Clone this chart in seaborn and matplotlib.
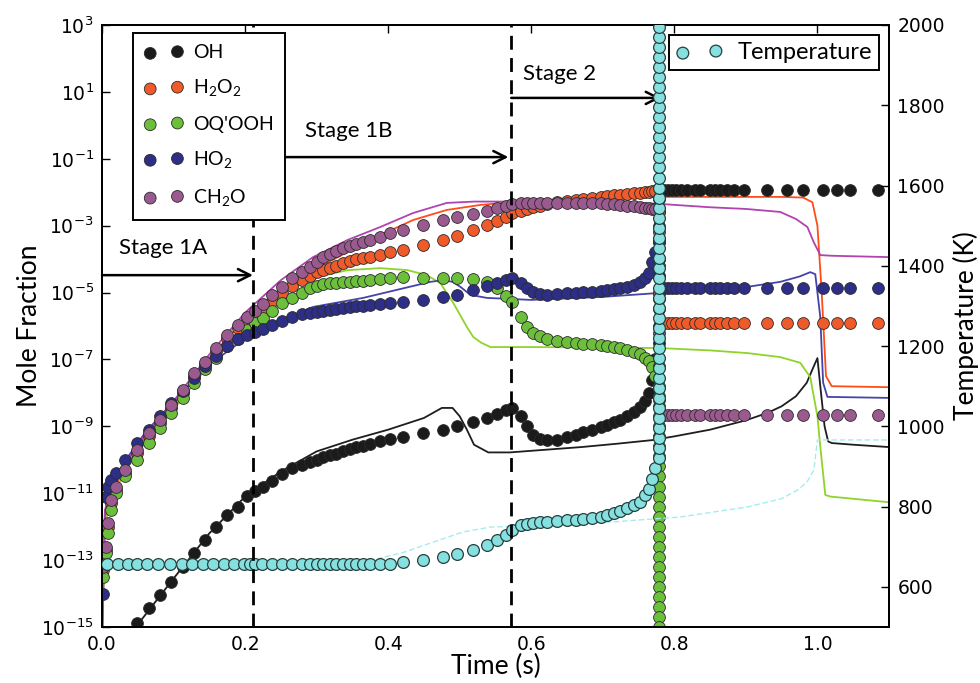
import numpy as np
import pandas as pd
import matplotlib
matplotlib.use("Agg")
import matplotlib.pyplot as plt
from matplotlib.ticker import FixedLocator, FuncFormatter, NullLocator
import seaborn as sns

nan = np.nan

# ---------------- experimental (dots), values are log10(mole fraction) ----------------
t_exp = [0.002, 0.005, 0.008, 0.012, 0.020, 0.032, 0.049, 0.065, 0.081, 0.097,
         0.113, 0.129, 0.144, 0.159, 0.175, 0.190, 0.203, 0.214, 0.225, 0.238,
         0.252, 0.266, 0.279, 0.291, 0.300, 0.309, 0.318, 0.327, 0.337, 0.346,
         0.355, 0.365, 0.375, 0.389, 0.403, 0.421, 0.449, 0.477, 0.496, 0.519,
         0.538, 0.552, 0.564, 0.573, 0.585, 0.594, 0.603, 0.612, 0.622, 0.636,
         0.650, 0.662, 0.673, 0.685, 0.697, 0.706, 0.715, 0.724, 0.734, 0.743,
         0.752, 0.759, 0.764, 0.769, 0.773]

oh_exp = [nan, nan, nan, nan, nan, nan, -14.88, -14.43, -14.05, -13.65,
          -13.2, -12.8, -12.4, -12.0, -11.65, -11.4, -11.08, -10.92, -10.8, -10.62,
          -10.42, -10.25, -10.15, -10.07, -10.0, -9.93, -9.87, -9.82, -9.75, -9.68,
          -9.63, -9.58, -9.52, -9.44, -9.38, -9.33, -9.2, -9.1, -9.0, -8.86,
          -8.74, -8.62, -8.52, -8.45, -8.7, -9.0, -9.25, -9.38, -9.42, -9.4,
          -9.32, -9.25, -9.17, -9.1, -9.02, -8.96, -8.88, -8.8, -8.7, -8.58,
          -8.42, -8.25, -8.0, -7.6, -7.0]

h2o2_exp = [-13.3, -12.7, -12.0, -11.3, -10.9, -10.4, -9.8, -9.3, -8.9, -8.45,
            -8.0, -7.5, -7.15, -6.75, -6.37, -6.05, -5.82, -5.65, -5.45, -5.25,
            -5.02, -4.80, -4.63, -4.50, -4.40, -4.33, -4.27, -4.20, -4.12, -4.06,
            -4.01, -3.97, -3.93, -3.88, -3.80, -3.72, -3.58, -3.43, -3.30, -3.14,
            -2.98, -2.85, -2.74, -2.62, -2.55, -2.50, -2.45, -2.40, -2.36, -2.30,
            -2.26, -2.22, -2.19, -2.16, -2.13, -2.11, -2.09, -2.07, -2.05, -2.03,
            -2.01, -2.00, -1.98, -1.97, -1.96]

oqooh_exp = [-13.5, -12.8, -12.2, -11.5, -11.0, -10.5, -10.0, -9.5, -9.05, -8.6,
             -8.15, -7.7, -7.3, -6.95, -6.6, -6.38, -6.12, -5.91, -5.75, -5.55,
             -5.31, -5.16, -5.0, -4.87, -4.80, -4.74, -4.72, -4.70, -4.69, -4.68,
             -4.66, -4.64, -4.63, -4.60, -4.57, -4.54, -4.56, -4.57, -4.57, -4.60,
             -4.68, -4.85, -5.10, -5.28, -5.73, -6.03, -6.21, -6.31, -6.40, -6.46,
             -6.49, -6.51, -6.53, -6.55, -6.57, -6.60, -6.63, -6.66, -6.72, -6.78,
             -6.85, -6.95, -7.05, -7.23, -7.50]

ho2_exp = [-14.0, -11.1, -10.8, -10.6, -10.4, -10.0, -9.5, -9.1, -8.7, -8.3,
           -7.95, -7.55, -7.2, -6.9, -6.6, -6.4, -6.27, -6.18, -6.10, -5.98,
           -5.85, -5.73, -5.65, -5.61, -5.58, -5.56, -5.52, -5.50, -5.47, -5.43,
           -5.41, -5.39, -5.37, -5.34, -5.31, -5.28, -5.22, -5.13, -5.07, -4.92,
           -4.80, -4.70, -4.63, -4.57, -4.72, -4.85, -4.98, -5.04, -5.07, -5.05,
           -5.02, -5.00, -4.99, -4.97, -4.95, -4.92, -4.90, -4.87, -4.83, -4.77,
           -4.68, -4.55, -4.42, -4.10, -3.80]

ch2o_exp = [-13.2, -12.6, -11.9, -11.2, -10.8, -10.3, -9.7, -9.2, -8.8, -8.35,
            -7.9, -7.42, -7.08, -6.66, -6.27, -5.97, -5.72, -5.55, -5.35, -5.07,
            -4.83, -4.57, -4.40, -4.24, -4.08, -3.94, -3.85, -3.76, -3.67, -3.60,
            -3.54, -3.49, -3.42, -3.34, -3.23, -3.12, -2.98, -2.83, -2.75, -2.64,
            -2.56, -2.48, -2.40, -2.34, -2.32, -2.31, -2.31, -2.31, -2.31, -2.31,
            -2.31, -2.31, -2.32, -2.32, -2.33, -2.35, -2.36, -2.38, -2.40, -2.42,
            -2.44, -2.46, -2.47, -2.49, -2.50]

# ignition column (all at one time)
t_ign = 0.778
oh_ign = [-6.5, -6.0, -5.5, -5.0, -4.5, -4.0, -3.5, -3.0, -2.6, -2.2]
h2o2_ign = [-2.6, -3.4, -4.2, -5.0]
oqooh_ign = [-7.8, -8.1, -8.4, -8.7, -9.0, -9.3, -9.6, -9.9, -10.2, -10.5, -10.8,
             -11.1, -11.4, -11.7, -12.0, -12.3, -12.6, -12.9, -13.2, -13.5, -13.8,
             -14.1, -14.4, -14.7, -15.0]
ho2_ign = [-3.5, -4.0, -4.5]
ch2o_ign = [-3.2, -4.2, -5.2, -6.2, -7.2, -8.2]

# after ignition
t_post = [0.786, 0.791, 0.797, 0.803, 0.809, 0.818, 0.829, 0.836, 0.850, 0.857,
          0.864, 0.874, 0.883, 0.897, 0.930, 0.958, 0.980, 1.008, 1.028, 1.046, 1.085]
oh_post = [-1.93, -1.93, -1.94, -1.93, -1.93, -1.93, -1.94, -1.93, -1.93, -1.93,
           -1.93, -1.93, -1.94, -1.93, -1.93, -1.93, -1.93, -1.93, -1.94, -1.93, -1.93]
h2o2_post = [-5.91, -5.91, -5.91, -5.92, -5.91, -5.91, -5.91, -5.91, -5.92, -5.91,
             -5.91, -5.91, -5.91, -5.91, -5.91, -5.91, -5.91, -5.91, -5.91, -5.91, -5.91]
ho2_post = [-4.87, -4.87, -4.87, -4.86, -4.87, -4.87, -4.87, -4.87, -4.87, -4.86,
            -4.87, -4.87, -4.87, -4.87, -4.87, -4.87, -4.87, -4.87, -4.87, -4.87, -4.87]
ch2o_post = [-8.66, -8.66, -8.66, -8.65, -8.66, -8.66, -8.66, -8.66, -8.66, -8.66,
             -8.66, -8.66, -8.66, -8.66, -8.66, -8.66, -8.66, -8.66, -8.66, -8.66, -8.66]

# temperature (K), experimental
t_T = [0.007, 0.022, 0.036, 0.049, 0.063, 0.078, 0.095, 0.112, 0.126, 0.141,
       0.155, 0.170, 0.185, 0.199, 0.207, 0.214, 0.224, 0.238, 0.252, 0.266,
       0.280, 0.291, 0.300, 0.309, 0.318, 0.327, 0.337, 0.346, 0.355, 0.365,
       0.375, 0.389, 0.403, 0.421, 0.449, 0.477, 0.496, 0.519, 0.538, 0.552,
       0.564, 0.573, 0.585, 0.594, 0.603, 0.612, 0.622, 0.636, 0.650, 0.662,
       0.673, 0.685, 0.697, 0.706, 0.715, 0.724, 0.734, 0.743, 0.752, 0.759,
       0.764, 0.769, 0.773]
T_exp = [658, 658, 658, 658, 658, 658, 658, 658, 658, 658,
         658, 658, 658, 658, 658, 658, 658, 658, 658, 658,
         658, 658, 658, 658, 658, 658, 658, 658, 658, 658,
         658, 658, 658, 662, 668, 674, 681, 692, 704, 717,
         729, 742, 754, 757, 759, 761, 762, 764, 767, 767,
         768, 771, 774, 779, 784, 790, 796, 803, 812, 829,
         845, 870, 895]
T_ign = [920, 945, 970, 995, 1020, 1045, 1070, 1095, 1120, 1145, 1170, 1195,
         1220, 1245, 1270, 1295, 1320, 1345, 1370, 1395, 1420, 1445, 1470, 1495,
         1520, 1545, 1570, 1595, 1620, 1645, 1670, 1695, 1720, 1745, 1770, 1795,
         1820, 1845, 1870, 1895, 1920, 1945, 1970, 1995]

# ---------------- model (lines) ----------------
oh_mod_t = [0.040, 0.10, 0.15, 0.20, 0.25, 0.30, 0.35, 0.40, 0.45, 0.475, 0.49, 0.50,
            0.51, 0.52, 0.54, 0.57, 0.62, 0.67, 0.72, 0.77, 0.80, 0.85, 0.90, 0.93,
            0.95, 0.97, 0.985, 0.995, 1.0, 1.005, 1.01, 1.015, 1.02, 1.05, 1.10]
oh_mod = [-15.2, -13.55, -12.2, -11.1, -10.35, -9.75, -9.4, -9.1, -8.75, -8.45, -8.45, -8.7,
          -9.1, -9.55, -9.78, -9.78, -9.7, -9.62, -9.52, -9.41, -9.3, -9.1, -8.82, -8.6,
          -8.4, -8.1, -7.7, -7.2, -6.96, -8.0, -9.0, -9.45, -9.5, -9.55, -9.62]

h2o2_mod_t = [0.0, 0.004, 0.012, 0.03, 0.06, 0.10, 0.15, 0.20, 0.25, 0.295, 0.343, 0.389,
              0.435, 0.482, 0.529, 0.60, 0.70, 0.78, 0.85, 0.95, 0.98, 0.993, 1.0, 1.006,
              1.012, 1.02, 1.10]
h2o2_mod = [-15.5, -11.8, -11.1, -10.3, -9.35, -8.35, -6.95, -5.8, -4.9, -4.33, -3.79, -3.28,
            -2.83, -2.53, -2.38, -2.25, -2.18, -2.14, -2.14, -2.14, -2.16, -2.3, -3.0, -5.0,
            -7.5, -7.8, -7.83]

oqooh_mod_t = [0.0, 0.004, 0.012, 0.03, 0.06, 0.10, 0.15, 0.20, 0.249, 0.295, 0.343, 0.389,
               0.427, 0.454, 0.473, 0.491, 0.51, 0.519, 0.53, 0.543, 0.60, 0.70, 0.78, 0.85,
               0.902, 0.948, 0.976, 0.99, 1.0, 1.004, 1.011, 1.018, 1.10]
oqooh_mod = [-15.5, -11.9, -11.3, -10.4, -9.5, -8.5, -7.15, -5.95, -5.07, -4.57, -4.33, -4.27,
             -4.33, -4.48, -4.72, -5.31, -6.03, -6.33, -6.5, -6.63, -6.63, -6.64, -6.66, -6.73,
             -6.81, -6.93, -7.1, -7.53, -8.7, -9.6, -11.05, -11.1, -11.27]

ho2_mod_t = [0.0, 0.004, 0.012, 0.03, 0.06, 0.10, 0.15, 0.20, 0.25, 0.295, 0.365, 0.412,
             0.459, 0.477, 0.49, 0.501, 0.515, 0.538, 0.60, 0.70, 0.78, 0.85, 0.902, 0.948,
             0.975, 0.99, 0.997, 1.004, 1.008, 1.014, 1.10]
ho2_mod = [-15.5, -11.6, -11.0, -10.1, -9.2, -8.25, -7.15, -6.38, -5.85, -5.43, -5.16, -4.92,
           -4.68, -4.63, -4.68, -4.83, -5.07, -5.16, -5.22, -5.13, -5.01, -4.93, -4.83, -4.68,
           -4.52, -4.39, -4.45, -5.73, -7.7, -8.12, -8.15]

ch2o_mod_t = [0.0, 0.004, 0.012, 0.03, 0.06, 0.10, 0.15, 0.20, 0.25, 0.295, 0.343, 0.389,
              0.435, 0.482, 0.52, 0.60, 0.70, 0.78, 0.85, 0.90, 0.948, 0.97, 0.986, 0.995,
              1.004, 1.02, 1.10]
ch2o_mod = [-15.5, -11.5, -11.0, -10.2, -9.25, -8.25, -6.85, -5.6, -4.63, -3.94, -3.43, -3.04,
            -2.62, -2.32, -2.28, -2.28, -2.29, -2.35, -2.45, -2.5, -2.59, -2.8, -3.04, -3.5,
            -3.88, -3.9, -3.94]

T_mod_t = [0.0, 0.10, 0.20, 0.30, 0.38, 0.42, 0.459, 0.505, 0.543, 0.60, 0.715, 0.808,
           0.902, 0.95, 0.972, 0.985, 0.995, 1.0, 1.01, 1.10]
T_mod = [658, 658, 658, 660, 668, 685, 709, 737, 749, 752, 762, 774,
         799, 820, 841, 860, 891, 966, 966, 966]

# annotations
stage_split = [0.211, 0.572]
y_ticks_exp = [3, 1, -1, -3, -5, -7, -9, -11, -13, -15]
x_ticks = [0.0, 0.2, 0.4, 0.6, 0.8, 1.0]
T_ticks = [600, 800, 1000, 1200, 1400, 1600, 1800, 2000]

# ---------------- style ----------------
sns.set_theme(style="white")
plt.rcParams.update({
    "font.family": ["DejaVu Sans"],
    "axes.edgecolor": "black",
    "axes.linewidth": 1.4,
    "xtick.color": "black",
    "ytick.color": "black",
    "axes.labelcolor": "black",
    "text.color": "black",
})
LBL = "Lato"

fig = plt.figure(figsize=(9.8, 6.83), dpi=100)
ax = fig.add_axes([0.1041, 0.0820, 0.8030, 0.8814])
ax.set_yscale("log")
ax2 = ax.twinx()

EDGE = "#2b2b2b"
col = {"OH": "#1b1b1b", "H2O2": "#ef5a2b", "OQ": "#6cbf3b", "HO2": "#2d2e85",
       "CH2O": "#9b5a8f", "T": "#86e0e0"}
lcol = {"OH": "#1e1e1e", "H2O2": "#ff4d1a", "OQ": "#8fd32b", "HO2": "#4444aa",
        "CH2O": "#b143b0", "T": "#a5eded"}

# model lines
for key, tt, vv in [("OH", oh_mod_t, oh_mod), ("H2O2", h2o2_mod_t, h2o2_mod),
                    ("OQ", oqooh_mod_t, oqooh_mod), ("HO2", ho2_mod_t, ho2_mod),
                    ("CH2O", ch2o_mod_t, ch2o_mod)]:
    sns.lineplot(x=tt, y=10.0 ** np.array(vv), ax=ax, color=lcol[key], lw=1.3,
                 sort=False, estimator=None, zorder=2)

# experimental dots
handles = []
groups = [("OH", "OH", oh_exp, oh_ign, oh_post),
          ("H2O2", "H$_\\mathdefault{2}$O$_\\mathdefault{2}$", h2o2_exp, h2o2_ign, h2o2_post),
          ("OQ", "OQ'OOH", oqooh_exp, oqooh_ign, None),
          ("HO2", "HO$_\\mathdefault{2}$", ho2_exp, ho2_ign, ho2_post),
          ("CH2O", "CH$_\\mathdefault{2}$O", ch2o_exp, ch2o_ign, ch2o_post)]
labels = []
for key, lab, ve, vi, vp in groups:
    tt = list(t_exp) + [t_ign] * len(vi)
    vv = list(ve) + list(vi)
    if vp is not None:
        tt += list(t_post)
        vv += list(vp)
    df = pd.DataFrame({"t": tt, "v": 10.0 ** np.array(vv, dtype=float)}).dropna()
    sns.scatterplot(data=df, x="t", y="v", ax=ax, color=col[key], s=72,
                    edgecolor=EDGE, linewidth=0.6, zorder=3, legend=False)
    handles.append(ax.collections[-1])
    labels.append(lab)

ax.set_xlim(0, 1.1)
ax.set_ylim(1e-15, 1e3)

# temperature
sns.lineplot(x=T_mod_t, y=T_mod, ax=ax2, color=lcol["T"], lw=1.0, ls=(0, (4, 2)),
             sort=False, estimator=None, zorder=2)
dfT = pd.DataFrame({"t": list(t_T) + [t_ign] * len(T_ign), "T": list(T_exp) + list(T_ign)})
sns.scatterplot(data=dfT, x="t", y="T", ax=ax2, color=col["T"], s=72,
                edgecolor="#24403f", linewidth=0.9, zorder=3, legend=False)
hT = ax2.collections[-1]
ax2.set_ylim(500, 2000)
ax2.set_xlim(0, 1.1)

# stage split lines (drawn on top axes, under legends)
for xs in stage_split:
    ax2.axvline(xs, color="black", lw=2.0, ls=(0, (5, 3)), zorder=4)

# arrows and stage labels
arr = dict(arrowstyle="->", color="black", lw=1.8, mutation_scale=22, shrinkA=0, shrinkB=0)
ax.annotate("", xy=(0.211, 10 ** -4.48), xytext=(0.0, 10 ** -4.48), arrowprops=arr, zorder=5)
ax.annotate("", xy=(0.568, 10 ** -0.95), xytext=(0.211, 10 ** -0.95), arrowprops=arr, zorder=5)
ax.annotate("", xy=(0.781, 10 ** 0.82), xytext=(0.572, 10 ** 0.82), arrowprops=arr, zorder=5)
ax.text(0.024, 10 ** -3.67, "Stage 1A", fontsize=16, family=LBL, va="center", ha="left")
ax.text(0.284, 10 ** -0.17, "Stage 1B", fontsize=16, family=LBL, va="center", ha="left")
ax.text(0.589, 10 ** 1.53, "Stage 2", fontsize=16, family=LBL, va="center", ha="left")

# ticks
ax.yaxis.set_major_locator(FixedLocator([10.0 ** k for k in y_ticks_exp]))
ax.yaxis.set_minor_locator(NullLocator())
ax.yaxis.set_major_formatter(FuncFormatter(
    lambda v, p: r"$\mathdefault{10^{%d}}$" % int(round(np.log10(v)))))
ax.xaxis.set_major_locator(FixedLocator(x_ticks))
ax.xaxis.set_major_formatter(FuncFormatter(lambda v, p: "%.1f" % v))
ax2.yaxis.set_major_locator(FixedLocator(T_ticks))
ax.tick_params(axis="both", which="major", direction="in", length=6, width=1,
               labelsize=13.5, top=True, right=False, pad=6)
ax2.tick_params(axis="y", direction="in", length=6, width=1, labelsize=13.5, pad=6)

ax.set_xlabel("Time (s)", fontsize=19, family=LBL, labelpad=0)
ax.set_ylabel("Mole Fraction", fontsize=19, family=LBL, labelpad=-1)
ax2.set_ylabel("Temperature (K)", fontsize=19, family=LBL, labelpad=6)

# legends (on top axes)
leg1 = ax2.legend(handles, labels, loc="upper left", bbox_to_anchor=(0.039, 0.987),
                  borderaxespad=0, scatterpoints=2, prop={"family": LBL, "size": 14},
                  frameon=True, fancybox=False, edgecolor="black", framealpha=1,
                  labelspacing=0.85, handlelength=2.0, handletextpad=0.5, borderpad=0.6)
leg1.get_frame().set_linewidth(1.4)
leg1.set_zorder(10)
ax2.add_artist(leg1)
leg2 = ax2.legend([hT], ["Temperature"], loc="upper right", bbox_to_anchor=(0.987, 0.983),
                  borderaxespad=0, scatterpoints=2, prop={"family": LBL, "size": 17},
                  frameon=True, fancybox=False, edgecolor="black", framealpha=1,
                  handlelength=2.0, handletextpad=0.6, borderpad=0.3)
leg2.get_frame().set_linewidth(1.4)
leg2.set_zorder(10)

fig.savefig("out.png", dpi=100)
